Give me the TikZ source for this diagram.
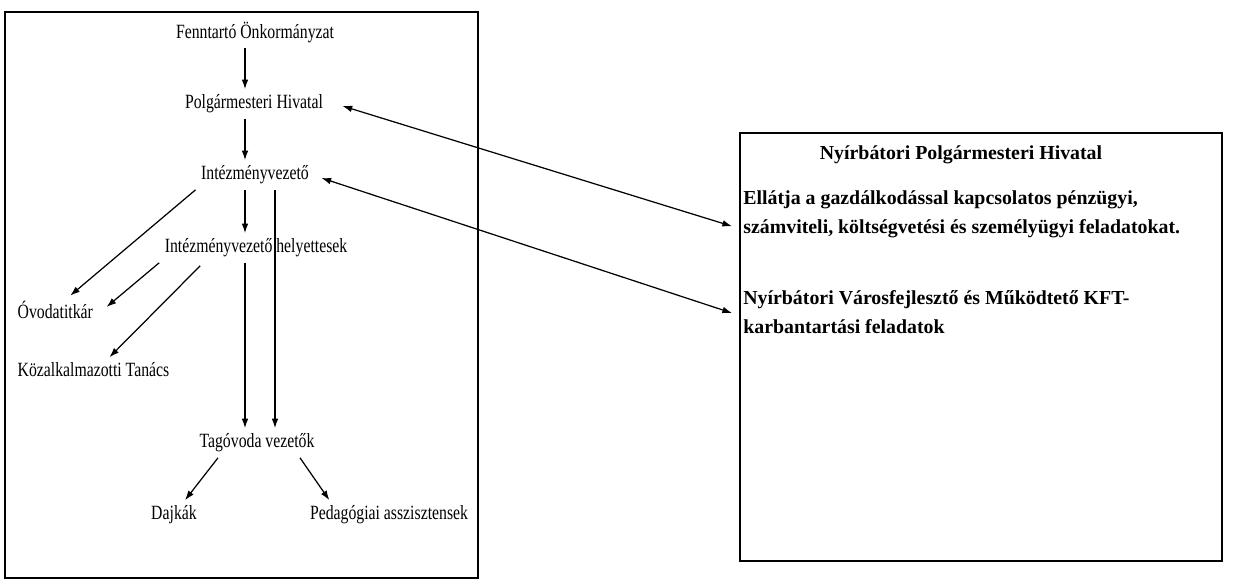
\documentclass[tikz,border=0pt]{standalone}
\usepackage{fontspec}
\setmainfont{Liberation Serif}
\newfontfamily\narrowfont{Liberation Serif}[FakeStretch=0.78]
\usetikzlibrary{arrows.meta,calc}
\tikzset{>={Latex[length=5.5pt,width=3.8pt]},line width=.7pt,
  every node/.style={inner sep=3pt},
  orgtext/.style={font=\narrowfont\fontsize{11.5pt}{13pt}\selectfont},
  boxtext/.style={font=\fontsize{11.3pt}{16pt}\selectfont\bfseries,align=left,inner sep=0pt},
  framebox/.style={draw,line width=1.1pt},
  link/.style={->,line width=.7pt},
  twoway/.style={<->,line width=.7pt}}
\begin{document}
\begin{tikzpicture}[x=.02cm,y=-.02cm]
\path[use as bounding box] (0,0) rectangle (1250,581);
\draw[framebox] (5,12) rectangle (478,578);
\draw[framebox] (740,133) rectangle (1222,561);
\node[orgtext] (fenn) at (255,32) {Fenntartó Önkormányzat};
\node[orgtext] (polg) at (254,104) {Polgármesteri Hivatal};
\node[orgtext] (intez) at (255,175) {Intézményvezető};
\node[orgtext] (helyet) at (256,248) {Intézményvezető helyettesek};
\node[orgtext,anchor=west] (titkar) at (12,310) {Óvodatitkár};
\node[orgtext,anchor=west] (kozalk) at (12,370) {Közalkalmazotti Tanács};
\node[orgtext] (tagov) at (257,443) {Tagóvoda vezetők};
\node[orgtext] (dajka) at (174,515) {Dajkák};
\node[orgtext] (pedass) at (389,515) {Pedagógiai asszisztensek};
\node[boxtext] (nyhiv) at (961,155) {Nyírbátori Polgármesteri Hivatal};
\node[boxtext,anchor=base west] (gazd) at (743,233) {Ellátja a gazdálkodással kapcsolatos pénzügyi,\\számviteli, költségvetési és személyügyi feladatokat.};
\node[boxtext,anchor=base west] (kft) at (743,333) {Nyírbátori Városfejlesztő és Működtető KFT-\\karbantartási feladatok};
\draw[link] ($(fenn.south)+(-10,0)$) -- ($(polg.north)+(-9,0)$);
\draw[link] ($(polg.south)+(-9,0)$) -- ($(intez.north)+(-10,0)$);
\draw[link] ($(intez.south)+(-10,0)$) -- ($(helyet.north)+(-11,0)$);
\draw[link] ($(helyet.south)+(-11,0)$) -- ($(tagov.north)+(-12,0)$);
\draw[link] ($(intez.south)+(20,0)$) coordinate (jobb) -- (jobb |- tagov.north);
\draw[link] (intez.south west) -- ($(titkar.north)+(15,0)$);
\draw[link] (helyet.south west) -- ($(titkar.east)+(8,-3)$);
\draw[link] ($(helyet.south west)+(41,3)$) -- ($(kozalk.north)+(16,0)$);
\draw[link] ($(tagov.south)+(-39,0)$) -- ($(dajka.north)+(11,0)$);
\draw[link] ($(tagov.south)+(43,0)$) -- ($(pedass.north west)+(25,0)$);
\draw[twoway] ($(polg.east)+(14,2)$) -- ($(gazd.west)+(-11,12)$);
\draw[twoway] ($(intez.east)+(7,3)$) -- ($(kft.west)+(-11,1)$);
\end{tikzpicture}
\end{document}
